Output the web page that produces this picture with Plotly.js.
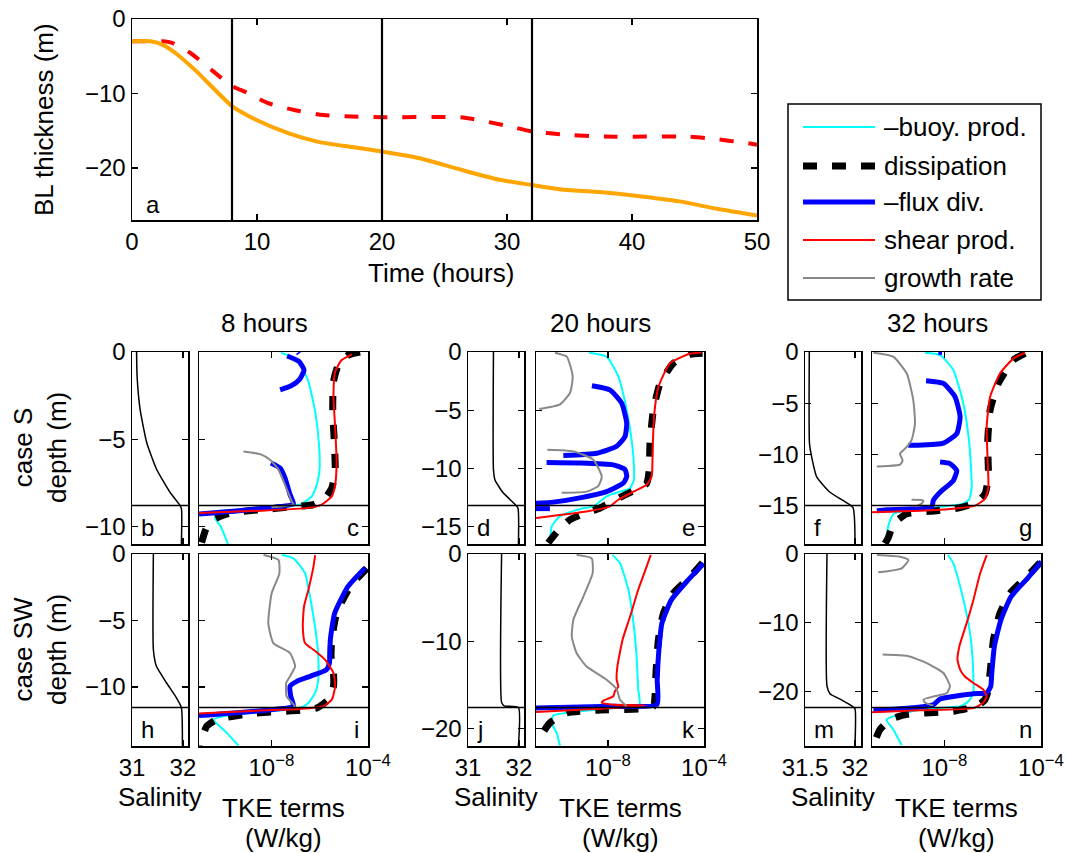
<!DOCTYPE html>
<html><head><meta charset="utf-8">
<script src="https://cdn.plot.ly/plotly-3.0.1.min.js"></script>
<style>html,body{margin:0;padding:0;background:#fff}#chart{width:1066px;height:853px}</style>
</head><body><div id="chart"></div><script>
// ---------- Panel a: boundary-layer thickness vs time ----------
const hours_S  = [0, 2.5, 3.2, 4.7, 7.2, 8, 9.2, 10.9, 12.9, 15.3, 17.6, 20, 26.3, 28.4, 30.4, 32, 34.4, 37.8, 44.5, 46.5, 49.3, 50];
const bl_S     = [-3.0, -3.0, -3.2, -4.6, -8.0, -9.0, -9.9, -11.3, -12.2, -12.9, -13.1, -13.2, -13.2, -13.8, -14.5, -15.1, -15.5, -15.8, -15.8, -16.1, -16.7, -16.9];
const hours_SW = [0, 1.5, 2.5, 3.5, 5.2, 8, 10, 12.6, 14.9, 17.6, 20, 23, 26, 29.4, 32, 34.4, 37.8, 40.1, 43.8, 46.8, 50];
const bl_SW    = [-3.0, -3.0, -3.5, -4.6, -7.1, -11.7, -13.6, -15.4, -16.5, -17.2, -17.8, -18.7, -20.1, -21.6, -22.3, -22.9, -23.3, -23.7, -24.5, -25.5, -26.4];
const snapshotHours = [8, 20, 32];
const snapshotTitles = ['8 hours', '20 hours', '32 hours'];
// BL depth (m) at the snapshots, case S and case SW
const blDepth_S  = [-8.8, -13.2, -15.0];
const blDepth_SW = [-11.55, -17.6, -22.3];

// ---------- Salinity profiles: [salinity, depth(m)] ----------
const b_sal = [[31.09,0],[31.1,-1.4],[31.16,-3.3],[31.29,-5.2],[31.48,-6.7],[31.75,-8.05],[31.92,-8.7],[31.97,-8.95],[31.97,-11]];
const d_sal = [[31.5,0],[31.5,-10.1],[31.53,-11.0],[31.69,-12.1],[31.89,-12.95],[31.98,-13.4],[31.99,-16.5]];
const f_sal = [[31.543,0],[31.545,-8.95],[31.567,-10.26],[31.617,-12.2],[31.75,-13.7],[31.88,-14.5],[31.98,-15.2],[32.0,-18.7]];
const h_sal = [[31.42,0],[31.42,-7.2],[31.48,-8.45],[31.68,-9.7],[31.87,-10.8],[31.97,-11.55],[31.99,-14.4]];
const j_sal = [[31.66,0],[31.66,-17.0],[31.71,-17.4],[31.99,-17.6],[31.99,-22]];
const m_sal = [[31.72,0],[31.72,-19.2],[31.75,-20.3],[31.85,-21.1],[31.97,-22.1],[32.0,-22.5],[32.0,-27.8]];

// ---------- TKE terms: [log10(W/kg), depth(m)], null = gap ----------
// panel c (case S, 8 h)
const c_buoy = [[-7.6,-0.05],[-6.9,-0.45],[-6.47,-1.7],[-6.19,-3.4],[-6.03,-5.3],[-6.01,-6.8],[-6.12,-7.6],[-6.33,-8.27],[-6.75,-8.7],[-7.5,-8.9],[-9.0,-9.1],[-10.2,-9.35],[-10.34,-9.5],[-10.1,-10.0],[-9.8,-11]];
const c_diss = [[-4.33,0],[-4.81,-0.17],[-5.23,-0.74],[-5.43,-1.7],[-5.46,-3.4],[-5.39,-5.3],[-5.36,-6.84],[-5.5,-7.8],[-5.78,-8.36],[-6.26,-8.74],[-7.2,-8.88],[-8.4,-9.03],[-9.3,-9.14],[-9.9,-9.3],[-10.4,-9.6],[-10.7,-10.1],[-10.9,-10.95]];
const c_flux = [[-6.9,-0.03],[-6.86,-0.1],null,[-7.35,-0.23],[-6.85,-0.55],[-6.65,-1.03],[-6.85,-1.6],[-7.2,-1.95],[-7.64,-2.17],null,[-8.02,-6.36],[-7.64,-6.65],[-7.44,-7.22],[-7.23,-8.17],[-7.09,-8.7],[-8.4,-8.97],[-11,-9.28]];
const c_shear = [[-4.67,-0.13],[-5.09,-0.46],[-5.36,-1.12],[-5.43,-2.46],[-5.36,-4.36],[-5.3,-6.27],[-5.36,-7.6],[-5.5,-8.27],[-5.92,-8.74],[-6.47,-8.93],[-8.4,-9.09],[-11,-9.22]];
const c_growth = [[-9.16,-5.7],[-8.47,-5.85],[-8.06,-6.17],[-7.71,-6.74],[-7.44,-7.6],[-7.16,-8.55],[-7.09,-8.74],[-8.0,-8.9]];
// panel e (case S, 20 h)
const e_buoy = [[-8.78,-0.06],[-8.06,-0.4],[-7.57,-2.1],[-7.22,-5.0],[-7.0,-7.8],[-6.92,-9.8],[-6.92,-11.0],[-7.08,-11.7],[-7.5,-12.0],[-8.06,-12.4],[-8.61,-13.26],[-9.17,-13.5],[-10.0,-14.1],[-10.35,-15.0],[-10.4,-16.1]];
const e_diss = [[-4.06,-0.1],[-4.58,-0.2],[-5.28,-0.97],[-5.83,-2.7],[-6.11,-5.0],[-6.25,-7.8],[-6.28,-10.1],[-6.39,-11.3],[-6.81,-11.8],[-7.5,-12.5],[-8.33,-13.4],[-8.89,-13.8],[-9.58,-14.4],[-10.14,-15.5],[-10.49,-16.4]];
const e_flux = [[-8.67,-2.9],[-7.92,-3.26],[-7.43,-4.4],[-7.22,-6.1],[-7.29,-7.26],[-7.64,-8.1],[-8.47,-8.7],[-9.86,-8.9],null,[-10.56,-9.5],[-9.17,-9.54],[-7.78,-9.7],[-7.29,-10.1],[-7.22,-10.7],[-7.36,-11.26],[-8.06,-12.0],[-9.17,-12.54],[-10.28,-12.9],[-11,-13.0],null,[-11,-13.46],[-10.42,-13.46]];
const e_shear = [[-4.1,-0.05],[-4.6,-0.15],[-5.42,-0.97],[-5.9,-3.0],[-6.08,-5.5],[-6.14,-8.4],[-6.18,-10.7],[-6.39,-11.4],[-6.94,-12.0],[-7.57,-12.7],[-7.92,-13.26],[-8.89,-13.7],[-11,-14.26]];
const e_growth = [[-10.21,-0.06],[-9.72,-0.4],[-9.47,-2.1],[-9.58,-3.5],[-10,-4.5],[-10.86,-4.9],null,[-10.53,-8.4],[-9.44,-8.54],[-8.61,-9.26],[-8.26,-10.7],[-8.4,-11.5],[-8.89,-12.0],[-9.93,-12.1]];
// panel g (case S, 32 h)
const g_buoy = [[-8.8,-0.07],[-8.18,-0.3],[-7.63,-1.76],[-7.22,-5.0],[-7.0,-8.3],[-6.91,-10.9],[-6.87,-13.2],[-6.97,-14.35],[-7.22,-14.8],[-8.5,-15.2],[-9.6,-15.5],[-10.1,-15.8],[-10.3,-16.8],[-10.4,-18.1],[-10.42,-18.7]];
const g_diss = [[-4.66,-0.13],[-5.14,-0.78],[-5.77,-3.07],[-6.11,-5.7],[-6.21,-8.95],[-6.18,-12.2],[-6.32,-13.86],[-6.66,-14.67],[-7.35,-15.2],[-8.32,-15.5],[-9.56,-15.8],[-10.12,-16.8],[-10.32,-18.1],[-10.46,-18.7]];
const g_flux = [[-8.25,-0.03],[-8.1,-0.06],null,[-8.76,-2.8],[-8.04,-3.07],[-7.56,-4.38],[-7.35,-6.34],[-7.49,-7.97],[-8.04,-8.9],[-9.15,-9.1],[-9.5,-9.1],null,[-8.18,-10.75],[-7.77,-10.9],[-7.49,-11.57],[-7.63,-12.55],[-8.18,-13.7],[-8.46,-14.5],[-8.53,-15.16],[-10.4,-15.4],[-10.8,-15.5]];
const g_shear = [[-4.66,-0.07],[-5.14,-0.62],[-5.7,-2.1],[-6.11,-4.4],[-6.25,-7.3],[-6.21,-10.6],[-6.18,-13.2],[-6.32,-14.35],[-6.73,-15.0],[-7.63,-15.3],[-9.01,-15.5],[-11,-15.65]];
const g_growth = [[-10.94,-0.07],[-10.12,-0.46],[-9.56,-2.1],[-9.29,-4.7],[-9.22,-7.0],[-9.36,-8.6],[-9.63,-9.44],[-9.84,-9.93],[-9.73,-10.6],[-9.84,-11.0],[-10.39,-11.14],[-10.8,-11.18],null,[-9.36,-14.44],[-8.87,-14.5],[-8.94,-14.8],[-9.2,-15.1]];
// panel i (case SW, 8 h)
const i_buoy = [[-7.57,-0.08],[-7.09,-0.33],[-6.61,-1.45],[-6.33,-3.95],[-6.12,-6.45],[-6.06,-7.7],[-6.06,-9.45],[-6.19,-10.45],[-6.47,-11.2],[-6.81,-11.58],[-8.5,-11.9],[-10.0,-12.2],[-10.4,-12.45],[-9.85,-13.45],[-9.37,-14.4]];
const i_diss = [[-4.05,-1.08],[-4.74,-2.45],[-5.3,-4.45],[-5.5,-6.45],[-5.53,-7.7],[-5.43,-8.95],[-5.43,-9.95],[-5.64,-10.95],[-6.12,-11.58],[-6.81,-11.75],[-8.89,-12.0],[-10.27,-12.45],[-10.68,-12.95],[-10.89,-13.95],[-10.96,-14.4]];
const i_flux = [[-4.12,-1.05],[-4.82,-2.42],[-5.38,-4.45],[-5.56,-6.45],[-5.58,-7.7],[-5.6,-8.2],[-5.72,-8.7],[-6.4,-9.2],[-6.95,-9.58],[-7.23,-9.95],[-7.2,-10.7],[-7.09,-11.45],[-8.2,-11.75],[-11,-12.15]];
const i_shear = [[-6.19,-0.08],[-6.26,-0.95],[-6.47,-2.7],[-6.65,-3.95],[-6.7,-5.45],[-6.61,-6.7],[-6.26,-7.2],[-5.78,-7.95],[-5.43,-8.95],[-5.36,-9.95],[-5.5,-10.95],[-5.85,-11.45],[-6.81,-11.65],[-8.2,-11.75],[-11,-12.0]];
const i_growth = [[-8.33,-0.08],[-7.71,-0.45],[-7.67,-1.45],[-7.99,-2.95],[-8.13,-5.2],[-7.92,-6.7],[-7.23,-7.45],[-7.02,-8.45],[-7.23,-9.2],[-7.39,-9.7],[-7.37,-10.7],[-7.09,-11.3],[-7.02,-11.58]];
// panel k (case SW, 20 h)
const k_buoy = [[-7.81,-0.1],[-7.5,-1.07],[-7.15,-4.1],[-6.94,-7.9],[-6.81,-11.7],[-6.74,-15.5],[-6.69,-17.26],[-8.0,-17.7],[-9.72,-18.2],[-10.28,-18.5],[-10.35,-19.35],[-10.14,-20.5],[-10.0,-22.0]];
const k_diss = [[-4.06,-1.0],[-4.58,-2.6],[-5.28,-4.5],[-5.69,-6.8],[-5.9,-9.8],[-6.0,-13.6],[-6.04,-16.3],[-6.11,-17.45],[-6.67,-17.75],[-8.47,-17.9],[-9.72,-18.2],[-10.42,-19.35],[-10.76,-20.7],[-10.9,-21.8]];
const k_flux = [[-4.02,-1.07],[-4.66,-2.97],[-5.36,-5.26],[-5.75,-7.9],[-5.88,-11.0],[-5.95,-14.4],[-5.96,-17.26],[-7.78,-17.45],[-11,-17.64]];
const k_shear = [[-6.22,-0.1],[-6.39,-1.45],[-6.74,-4.1],[-7.08,-7.16],[-7.39,-9.8],[-7.61,-12.9],[-7.64,-14.4],[-7.57,-15.2],[-7.71,-15.7],[-7.78,-16.3],[-8.19,-16.8],[-8.26,-17.07],[-7.78,-17.26],[-6.46,-17.37],[-7.78,-17.64],[-11,-18.1]];
const k_growth = [[-9.31,-0.1],[-8.68,-0.5],[-8.64,-2.2],[-9.03,-4.9],[-9.44,-7.5],[-9.51,-9.45],[-9.31,-11.35],[-8.89,-12.9],[-8.06,-14.4],[-7.64,-15.5],[-7.5,-16.7],[-7.22,-17.45]];
// panel n (case SW, 32 h)
const n_buoy = [[-7.86,-0.15],[-7.63,-1.35],[-7.42,-3.77],[-7.15,-7.6],[-6.94,-11.5],[-6.84,-14.9],[-6.8,-18.26],[-6.8,-20.2],[-7.0,-21.4],[-7.35,-22.1],[-9.0,-22.6],[-10.4,-24.06],[-10.12,-25.5],[-9.77,-27.8]];
const n_diss = [[-4.04,-1.26],[-4.59,-3.3],[-5.28,-5.7],[-5.7,-8.6],[-5.97,-12.46],[-6.08,-16.3],[-6.14,-18.26],[-6.18,-19.7],[-6.32,-21.16],[-6.66,-22.1],[-7.63,-22.85],[-9.56,-23.3],[-10.25,-24.06],[-10.67,-25.5],[-10.88,-27.2]];
const n_flux = [[-3.98,-1.1],[-4.55,-3.5],[-5.24,-6.2],[-5.66,-9.57],[-5.93,-13.4],[-6.04,-17.3],[-6.08,-19.2],[-6.25,-20.2],[-6.8,-20.3],[-7.63,-20.7],[-8.18,-21.06],[-8.46,-21.9],[-9.84,-22.5],[-10.94,-22.7]];
const n_shear = [[-6.25,-0.15],[-6.52,-2.8],[-6.8,-6.67],[-7.08,-10.05],[-7.38,-13.4],[-7.46,-15.36],[-7.35,-16.8],[-7.15,-17.8],[-6.8,-18.74],[-6.39,-19.7],[-6.25,-20.7],[-6.39,-21.6],[-6.8,-22.4],[-9.01,-22.7],[-11,-23.0]];
const n_growth = [[-10.8,-0.15],[-9.84,-0.39],[-9.49,-0.87],[-9.77,-2.08],[-10.74,-2.66],null,[-10.56,-14.6],[-9.56,-14.8],[-8.73,-15.85],[-8.04,-17.3],[-7.77,-19.2],[-7.9,-20.2],[-8.46,-20.7],[-8.87,-21.16],[-8.8,-21.6],[-8.46,-22.0]];

const legendLabels = ['\u2013buoy. prod.', 'dissipation', '\u2013flux div.', 'shear prod.', 'growth rate'];
const salTickVals = [[31, 32], [31, 32], [31.5, 32]];
const tkeTickVals = [1e-8, 1e-4];
const tkeTickText = ['10<sup>\u22128</sup>', '10<sup>\u22124</sup>'];

// ---------- styles / layout geometry ----------
const W = 1066, H = 853;
const FONT = 'Liberation Sans, Arial, Helvetica, sans-serif';
const styles = {
  buoy:  {color:'#00ffff', width:2},
  diss:  {color:'#000000', width:7, dash:'14px,15px'},
  flux:  {color:'#0000ff', width:5},
  shear: {color:'#ff0000', width:2},
  growth:{color:'#888888', width:2}
};
const order = ['buoy','diss','flux','shear','growth'];
const px = (a,b)=>[a/W, b/W];
const py = (top,bottom)=>[1-bottom/H, 1-top/H];
const salX = [[132,188],[468,524],[805,861]];
const tkeX = [[199,368],[536,704],[872,1041]];
const rowY = [[352,544],[554,746]];
const yRanges = [[[-11,0],[-16.5,0],[-18.75,0]],[[-14.44,0],[-22,0],[-27.9,0]]];
const yDtick = [[5,5,5],[5,10,10]];
const salRanges = [[31,32.1],[31,32.1],[31.5,32.06]];

const sal = [[b_sal,d_sal,f_sal],[h_sal,j_sal,m_sal]];
const tke = [
  [{buoy:c_buoy,diss:c_diss,flux:c_flux,shear:c_shear,growth:c_growth},
   {buoy:e_buoy,diss:e_diss,flux:e_flux,shear:e_shear,growth:e_growth},
   {buoy:g_buoy,diss:g_diss,flux:g_flux,shear:g_shear,growth:g_growth}],
  [{buoy:i_buoy,diss:i_diss,flux:i_flux,shear:i_shear,growth:i_growth},
   {buoy:k_buoy,diss:k_diss,flux:k_flux,shear:k_shear,growth:k_growth},
   {buoy:n_buoy,diss:n_diss,flux:n_flux,shear:n_shear,growth:n_growth}]
];
const letters = [['b','c','d','e','f','g'],['h','i','j','k','m','n']];
const blDepth = [blDepth_S, blDepth_SW];

function baseAxis(extra){
  return Object.assign({showline:true, linecolor:'#000', linewidth:1.5, mirror:'allticks',
    ticks:'inside', ticklen:6, tickwidth:1.3, tickcolor:'#000', showgrid:false, zeroline:false,
    fixedrange:true, tickfont:{family:FONT, size:24, color:'#000'}}, extra);
}

const data = [];
const layout = {
  width:W, height:H, margin:{l:0,r:0,t:0,b:0}, paper_bgcolor:'#fff', plot_bgcolor:'#fff',
  showlegend:false, font:{family:FONT, size:24, color:'#000'},
  shapes:[], annotations:[]
};

// panel a
layout.xaxis = baseAxis({domain:px(132,757), anchor:'y', range:[0,50], dtick:10, tick0:0});
layout.yaxis = baseAxis({domain:py(19,220), anchor:'x', range:[-27,0], dtick:10, tick0:0});
data.push({x:hours_S, y:bl_S, xaxis:'x', yaxis:'y', mode:'lines', line:{color:'#ff0000', width:4, dash:'14px,15px', shape:'spline', smoothing:0.6}, hoverinfo:'skip'});
data.push({x:hours_SW, y:bl_SW, xaxis:'x', yaxis:'y', mode:'lines', line:{color:'#ffa500', width:4, shape:'spline', smoothing:0.6}, hoverinfo:'skip'});
snapshotHours.forEach(h=>layout.shapes.push({type:'line', xref:'x', yref:'y domain', x0:h, x1:h, y0:0, y1:1, line:{color:'#000', width:2.2}}));

function ann(text, x, y, o){
  layout.annotations.push(Object.assign({text:text, xref:'paper', yref:'paper', x:x/W, y:1-y/H,
    showarrow:false, xanchor:'center', yanchor:'middle', font:{family:FONT, size:26, color:'#000'}}, o||{}));
}
ann('a', 144, 204, {xanchor:'left', font:{family:FONT,size:24,color:'#000'}});
ann('Time (hours)', 441, 273);
ann('BL thickness (m)', 44, 120, {textangle:-90});

for (let r=0;r<2;r++){
  for (let g=0;g<3;g++){
    const si = 2 + r*6 + g*2, ti = si+1;
    const sx='x'+si, sy='y'+si, tx='x'+ti, ty='y'+ti;
    const yd = py(rowY[r][0], rowY[r][1]);
    layout['xaxis'+si] = baseAxis({domain:px(salX[g][0],salX[g][1]), anchor:sy, range:salRanges[g], tickvals:salTickVals[g], showticklabels:r===1});
    layout['yaxis'+si] = baseAxis({domain:yd, anchor:sx, range:yRanges[r][g], dtick:yDtick[r][g], tick0:0});
    layout['xaxis'+ti] = baseAxis({domain:px(tkeX[g][0],tkeX[g][1]), anchor:ty, type:'log', range:[-11,-4], tickvals:tkeTickVals, ticktext:tkeTickText, showticklabels:r===1});
    layout['yaxis'+ti] = baseAxis({domain:yd, anchor:tx, range:yRanges[r][g], dtick:yDtick[r][g], tick0:0, showticklabels:false});
    // salinity
    const s = sal[r][g];
    data.push({x:s.map(p=>p[0]), y:s.map(p=>p[1]), xaxis:sx, yaxis:sy, mode:'lines', line:{color:'#000', width:1.5, shape:'spline', smoothing:0.5}, hoverinfo:'skip'});
    // TKE terms
    order.forEach(k=>{
      const arr = tke[r][g][k];
      data.push({x:arr.map(p=>p?Math.pow(10,p[0]):null), y:arr.map(p=>p?p[1]:null), xaxis:tx, yaxis:ty, mode:'lines', connectgaps:false,
        line:Object.assign({shape:'spline', smoothing:0.5}, styles[k]), hoverinfo:'skip'});
    });
    // boundary-layer depth line
    [[sx,sy],[tx,ty]].forEach(([xa,ya])=>layout.shapes.push({type:'line', xref:xa+' domain', yref:ya, x0:0, x1:1, y0:blDepth[r][g], y1:blDepth[r][g], line:{color:'#000', width:1.5}}));
    // panel letters
    const bottom = rowY[r][1];
    ann(letters[r][2*g], salX[g][0]+7, bottom-17, {xanchor:'left', font:{family:FONT,size:24,color:'#000'}});
    ann(letters[r][2*g+1], tkeX[g][1]-7, bottom-17, {xanchor:'right', font:{family:FONT,size:24,color:'#000'}});
    if (r===1){
      ann('Salinity', (salX[g][0]+salX[g][1])/2, 797);
      ann('TKE terms', (tkeX[g][0]+tkeX[g][1])/2, 808);
      ann('(W/kg)', (tkeX[g][0]+tkeX[g][1])/2, 838);
    }
  }
}
ann(snapshotTitles[0], 264, 323);
ann(snapshotTitles[1], 600, 323);
ann(snapshotTitles[2], 937, 323);
ann('case S<br>depth (m)', 40, 448, {textangle:-90});
ann('case SW<br>depth (m)', 40, 650, {textangle:-90});

// legend box
layout.shapes.push({type:'rect', xref:'paper', yref:'paper', x0:788/W, x1:1041/W, y0:1-104/H, y1:1-300/H, line:{color:'#000', width:1.5}, fillcolor:'rgba(0,0,0,0)'});
const legY = [127,166,202,240,278];
order.forEach((k,i)=>{
  const st = styles[k];
  layout.shapes.push({type:'line', xref:'paper', yref:'paper', x0:803/W, x1:875/W, y0:1-legY[i]/H, y1:1-legY[i]/H,
    line:{color:st.color, width:st.width, dash:st.dash||'solid'}});
  ann(legendLabels[i], 882, legY[i], {xanchor:'left'});
});

Plotly.newPlot('chart', data, layout, {staticPlot:true, displayModeBar:false});
</script></body></html>
